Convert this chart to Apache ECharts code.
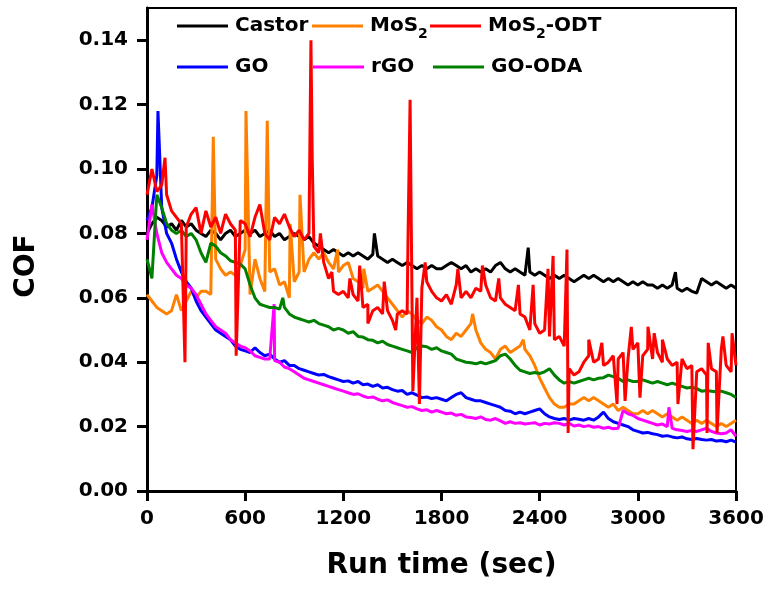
<!DOCTYPE html>
<html><head><meta charset="utf-8">
<script src="https://cdn.jsdelivr.net/npm/echarts@6/dist/echarts.min.js"></script>
<style>html,body{margin:0;padding:0;background:#fff}#c{width:767px;height:590px}</style>
</head><body><div id="c"></div>
<script>
// ---- data (COF sampled every STEP seconds, plus narrow spikes as [time, COF]) ----
const STEP = 30;
const xTicks = [0, 600, 1200, 1800, 2400, 3000, 3600];
const yTicks = [0, 0.02, 0.04, 0.06, 0.08, 0.10, 0.12, 0.14];
const seriesNames = ['Castor', 'MoS2', 'MoS2-ODT', 'GO', 'rGO', 'GO-ODA'];

const castor = [
  0.080,0.083,0.085,0.084,0.082,0.083,0.081,0.084,0.082,0.083,
  0.081,0.080,0.079,0.081,0.080,0.078,0.080,0.081,0.079,0.080,
  0.081,0.080,0.081,0.079,0.080,0.081,0.079,0.080,0.078,0.079,
  0.080,0.079,0.078,0.079,0.077,0.076,0.075,0.074,0.075,0.074,
  0.073,0.074,0.073,0.074,0.073,0.072,0.0735,0.073,0.072,0.071,
  0.072,0.071,0.070,0.071,0.070,0.069,0.070,0.069,0.070,0.069,
  0.069,0.070,0.071,0.070,0.069,0.070,0.068,0.069,0.068,0.069,
  0.068,0.070,0.071,0.069,0.068,0.069,0.068,0.067,0.068,0.067,
  0.068,0.067,0.066,0.067,0.066,0.067,0.066,0.065,0.066,0.067,
  0.066,0.067,0.066,0.065,0.066,0.065,0.066,0.065,0.064,0.065,
  0.064,0.065,0.064,0.064,0.063,0.064,0.063,0.064,0.063,0.062,
  0.063,0.062,0.0615,0.066,0.065,0.064,0.065,0.064,0.063,0.064,
  0.063
];
const castorSpikes = [[1390,0.080],[2330,0.0756],[3230,0.068]];

const mos2 = [
  0.061,0.059,0.057,0.056,0.055,0.056,0.061,0.056,0.059,0.062,
  0.060,0.062,0.062,0.061,0.072,0.069,0.067,0.068,0.067,0.070,
  0.075,0.061,0.072,0.066,0.062,0.068,0.069,0.064,0.065,0.060,
  0.065,0.068,0.068,0.072,0.074,0.072,0.074,0.071,0.069,0.068,
  0.070,0.071,0.066,0.065,0.063,0.062,0.063,0.064,0.062,0.060,
  0.058,0.056,0.054,0.056,0.055,0.053,0.052,0.054,0.053,0.051,
  0.050,0.048,0.047,0.049,0.048,0.050,0.052,0.050,0.046,0.044,
  0.043,0.041,0.044,0.045,0.043,0.044,0.045,0.044,0.042,0.039,
  0.035,0.032,0.029,0.027,0.026,0.026,0.027,0.027,0.028,0.029,
  0.028,0.029,0.028,0.027,0.026,0.027,0.025,0.026,0.025,0.024,
  0.024,0.025,0.024,0.025,0.024,0.023,0.024,0.023,0.022,0.023,
  0.022,0.021,0.022,0.021,0.022,0.021,0.020,0.021,0.020,0.021,
  0.022
];
const mos2Spikes = [[405,0.110],[605,0.118],[735,0.115],[875,0.083],[935,0.092],
  [1165,0.075],[1325,0.069],[1990,0.055],[2300,0.047]];

const mos2Odt = [
  0.092,0.100,0.093,0.095,0.092,0.087,0.085,0.083,0.082,0.086,
  0.088,0.080,0.087,0.082,0.085,0.080,0.086,0.083,0.081,0.084,
  0.083,0.079,0.085,0.089,0.080,0.078,0.085,0.083,0.086,0.082,
  0.079,0.081,0.078,0.080,0.076,0.074,0.071,0.066,0.062,0.061,
  0.062,0.060,0.061,0.059,0.057,0.058,0.056,0.057,0.055,0.056,
  0.053,0.055,0.056,0.055,0.058,0.060,0.063,0.065,0.062,0.060,
  0.059,0.061,0.058,0.064,0.060,0.062,0.060,0.063,0.062,0.064,
  0.060,0.059,0.060,0.058,0.057,0.056,0.055,0.054,0.050,0.052,
  0.049,0.050,0.048,0.047,0.048,0.045,0.038,0.036,0.037,0.040,
  0.042,0.040,0.041,0.039,0.040,0.042,0.041,0.043,0.041,0.044,
  0.046,0.042,0.044,0.041,0.043,0.040,0.041,0.039,0.040,0.041,
  0.038,0.039,0.037,0.038,0.036,0.038,0.037,0.044,0.039,0.037,
  0.039
];
const mos2OdtSpikes = [[110,0.1035],[232,0.040],[545,0.042],[1002,0.140],[1010,0.103],
  [1060,0.080],[1130,0.068],[1240,0.066],[1300,0.070],[1350,0.052],[1450,0.065],[1520,0.050],
  [1595,0.077],[1608,0.1215],[1625,0.031],[1665,0.027],[1700,0.071],[1900,0.069],
  [2050,0.070],[2150,0.066],[2270,0.064],[2360,0.064],[2451,0.069],[2482,0.073],
  [2567,0.075],[2574,0.018],[2700,0.047],[2780,0.046],[2873,0.027],[2922,0.028],
  [2960,0.051],[3013,0.029],[3062,0.051],[3100,0.049],[3150,0.047],
  [3245,0.027],[3337,0.013],[3423,0.018],[3430,0.046],[3484,0.018],[3520,0.048],[3576,0.049]];

const go = [
  0.084,0.088,0.098,0.088,0.080,0.077,0.072,0.068,0.065,0.063,
  0.059,0.056,0.054,0.052,0.050,0.049,0.048,0.047,0.045,0.044,
  0.0435,0.043,0.0445,0.043,0.042,0.0425,0.041,0.040,0.0405,0.039,
  0.039,0.038,0.0375,0.037,0.0365,0.036,0.0362,0.0355,0.035,0.0345,
  0.034,0.0342,0.0335,0.034,0.033,0.0332,0.0325,0.033,0.032,0.0322,
  0.0315,0.031,0.0312,0.030,0.0305,0.0298,0.029,0.0292,0.0287,0.029,
  0.0285,0.028,0.029,0.030,0.0305,0.029,0.0285,0.028,0.028,0.0275,
  0.027,0.0265,0.026,0.025,0.0248,0.024,0.0245,0.024,0.0245,0.025,
  0.0255,0.024,0.023,0.0225,0.0222,0.0225,0.022,0.0225,0.0223,0.022,
  0.0225,0.022,0.023,0.0245,0.0225,0.0215,0.021,0.0205,0.020,0.019,
  0.0185,0.018,0.0182,0.0178,0.0175,0.017,0.0172,0.0168,0.0165,0.0168,
  0.0162,0.016,0.0163,0.016,0.0158,0.016,0.0155,0.0157,0.0153,0.0158,
  0.0152
];
const goSpikes = [[67,0.118]];

const rgo = [
  0.078,0.089,0.080,0.074,0.071,0.069,0.067,0.066,0.064,0.063,
  0.061,0.058,0.055,0.053,0.051,0.050,0.049,0.047,0.046,0.045,
  0.0445,0.0435,0.042,0.0415,0.041,0.041,0.0405,0.040,0.0385,0.038,
  0.037,0.036,0.035,0.0345,0.034,0.0335,0.033,0.0325,0.032,0.0315,
  0.031,0.0305,0.030,0.0302,0.0295,0.029,0.0292,0.0285,0.028,0.0283,
  0.0275,0.027,0.0265,0.026,0.0262,0.0255,0.025,0.0252,0.0245,0.025,
  0.0245,0.024,0.0242,0.0235,0.0238,0.023,0.0228,0.0225,0.023,0.0222,
  0.022,0.0225,0.0218,0.021,0.0215,0.021,0.0212,0.0208,0.021,0.0212,
  0.0205,0.021,0.0208,0.0212,0.021,0.0205,0.021,0.0202,0.0205,0.020,
  0.0203,0.0198,0.020,0.0195,0.0198,0.0193,0.0195,0.025,0.024,0.0235,
  0.0225,0.022,0.0215,0.021,0.0205,0.0208,0.020,0.0195,0.019,0.0188,
  0.0185,0.0188,0.0185,0.019,0.0195,0.0185,0.018,0.0178,0.018,0.019,
  0.017
];
const rgoSpikes = [[777,0.058],[3190,0.026]];

const goOda = [
  0.072,0.066,0.092,0.088,0.083,0.081,0.080,0.081,0.079,0.080,
  0.078,0.074,0.071,0.077,0.076,0.074,0.073,0.0715,0.071,0.0705,
  0.069,0.064,0.060,0.058,0.0575,0.057,0.057,0.0565,0.057,0.055,
  0.054,0.0535,0.053,0.0525,0.053,0.052,0.0515,0.051,0.050,0.0505,
  0.050,0.049,0.0495,0.048,0.0478,0.047,0.0468,0.046,0.0465,0.0455,
  0.045,0.0445,0.044,0.0435,0.043,0.0445,0.045,0.0448,0.044,0.0445,
  0.0435,0.043,0.0425,0.041,0.0405,0.040,0.0398,0.0395,0.040,0.0395,
  0.040,0.0405,0.042,0.0425,0.041,0.039,0.0375,0.037,0.0365,0.0368,
  0.0365,0.037,0.038,0.036,0.0345,0.0335,0.034,0.0335,0.034,0.0345,
  0.035,0.0345,0.035,0.0352,0.036,0.0355,0.035,0.034,0.0345,0.034,
  0.034,0.0345,0.034,0.0335,0.034,0.0335,0.033,0.0335,0.033,0.0325,
  0.032,0.0322,0.0318,0.031,0.0312,0.031,0.0308,0.031,0.0305,0.030,
  0.029
];
const goOdaSpikes = [[830,0.060]];

// ---- build ----
function build(vals, spikes) {
  const pts = vals.map((v, i) => [i * STEP, v]).concat(spikes);
  pts.sort((a, b) => a[0] - b[0]);
  return pts;
}
const FONT = '"DejaVu Sans", "Liberation Sans", Arial, sans-serif';
const colors = {
  'Castor': '#000000', 'MoS2': '#FF8000', 'MoS2-ODT': '#FF0000',
  'GO': '#0000FF', 'rGO': '#FF00FF', 'GO-ODA': '#008000'
};
const dataMap = {
  'Castor': build(castor, castorSpikes),
  'MoS2': build(mos2, mos2Spikes),
  'MoS2-ODT': build(mos2Odt, mos2OdtSpikes),
  'GO': build(go, goSpikes),
  'rGO': build(rgo, rgoSpikes),
  'GO-ODA': build(goOda, goOdaSpikes)
};
const drawOrder = ['Castor', 'MoS2', 'GO', 'rGO', 'GO-ODA', 'MoS2-ODT'];

const richLabel = {
  'MoS2': '{n|MoS}{s|2}',
  'MoS2-ODT': '{n|MoS}{s|2}{n|-ODT}'
};
const legendPos = {
  'Castor': [177, 16], 'MoS2': [312, 16], 'MoS2-ODT': [430, 16],
  'GO': [177, 57], 'rGO': [313, 57], 'GO-ODA': [433, 57]
};
const legends = seriesNames.map(name => ({
  data: [name],
  left: legendPos[name][0], top: legendPos[name][1],
  padding: 0, itemGap: 0,
  itemWidth: 51, itemHeight: 3, icon: 'rect',
  selectedMode: false,
  formatter: n => richLabel[n] || ('{n|' + n + '}'),
  textStyle: {
    color: '#000', fontFamily: FONT, fontWeight: 'bold', fontSize: 20,
    padding: [0, 0, 0, 2],
    rich: {
      n: { fontFamily: FONT, fontWeight: 'bold', fontSize: 20, color: '#000' },
      s: { fontFamily: FONT, fontWeight: 'bold', fontSize: 14, color: '#000', padding: [16, 0, 0, 0] }
    }
  }
}));

const chart = echarts.init(document.getElementById('c'), null, { renderer: 'canvas' });
chart.setOption({
  animation: false,
  backgroundColor: '#fff',
  grid: {
    left: 147, right: 31, top: 8, bottom: 99,
    show: true, borderColor: '#000', borderWidth: 2, backgroundColor: 'transparent',
    outerBoundsMode: 'none'
  },
  legend: legends,
  xAxis: {
    type: 'value', min: 0, max: 3600, interval: 600,
    axisLine: { onZero: false, lineStyle: { color: '#000', width: 3 } },
    axisTick: { show: true, inside: false, length: 10, lineStyle: { color: '#000', width: 3 }, customValues: xTicks },
    axisLabel: { customValues: xTicks, margin: 18, color: '#000', fontFamily: FONT, fontWeight: 'bold', fontSize: 20,
      formatter: v => String(Math.round(v)) },
    splitLine: { show: false },
    name: 'Run time (sec)', nameLocation: 'middle', nameGap: 61,
    nameTextStyle: { color: '#000', fontFamily: FONT, fontWeight: 'bold', fontSize: 28 }
  },
  yAxis: {
    type: 'value', min: 0, max: 0.15,
    axisLine: { show: true, onZero: false, lineStyle: { color: '#000', width: 3 } },
    axisTick: { show: true, inside: false, length: 10, lineStyle: { color: '#000', width: 3 }, customValues: yTicks },
    axisLabel: {
      customValues: yTicks, margin: 19, color: '#000', fontFamily: FONT, fontWeight: 'bold', fontSize: 20,
      formatter: v => Number(v).toFixed(2)
    },
    splitLine: { show: false }
  },
  graphic: [{
    type: 'text', x: 27, y: 266, rotation: Math.PI / 2,
    style: {
      text: 'COF', fill: '#000',
      font: 'bold 28px "DejaVu Sans", "Liberation Sans", Arial, sans-serif',
      align: 'center', verticalAlign: 'middle',
      textAlign: 'center', textVerticalAlign: 'middle'
    }
  }],
  series: drawOrder.map(name => ({
    name: name, type: 'line', data: dataMap[name],
    showSymbol: false, symbol: 'none', sampling: null,
    color: colors[name],
    lineStyle: { color: colors[name], width: 3 },
    emphasis: { disabled: true }
  }))
});
</script>
</body></html>
